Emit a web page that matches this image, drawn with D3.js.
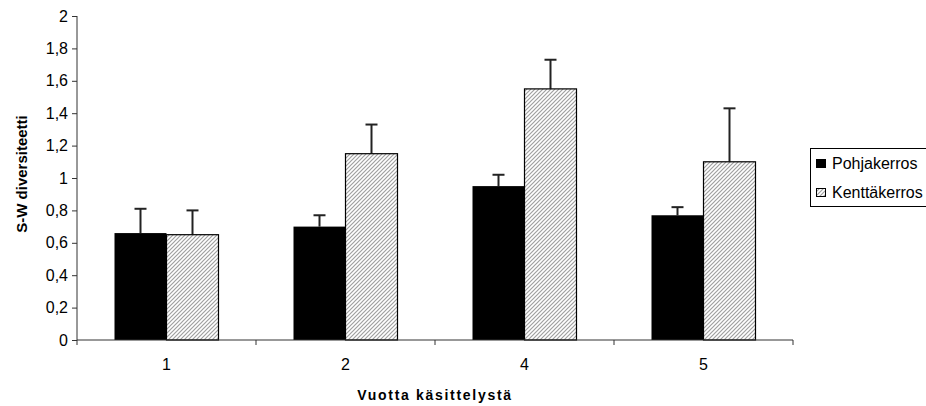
<!DOCTYPE html>
<html><head><meta charset="utf-8">
<script src="https://cdn.jsdelivr.net/npm/d3@7"></script>
<style>body{margin:0;background:#fff}svg{display:block}text{font-family:"Liberation Sans",Arial,sans-serif}</style>
</head><body><svg id="c" width="926" height="406"></svg>
<script>
const categories = ["1","2","4","5"];
const seriesNames = ["Pohjakerros","Kenttäkerros"];
const pohjaValues = [0.66, 0.70, 0.95, 0.77];
const pohjaErr    = [0.15, 0.07, 0.07, 0.05];
const kenttaValues = [0.65, 1.15, 1.55, 1.10];
const kenttaErr    = [0.15, 0.18, 0.18, 0.33];
const yTicks = [0,0.2,0.4,0.6,0.8,1,1.2,1.4,1.6,1.8,2];

const svg = d3.select("#c");
const m = {l:77, t:16, r:793, b:340};
const defs = svg.append("defs");
const pat = defs.append("pattern").attr("id","hatch").attr("patternUnits","userSpaceOnUse")
  .attr("width",4).attr("height",4);
pat.append("rect").attr("width",4).attr("height",4).attr("fill","#fff");
pat.append("path").attr("d","M-1,1 l2,-2 M0,4 l4,-4 M3,5 l2,-2").attr("stroke","#a0a0a0").attr("stroke-width",1.2);

const x = d3.scaleBand().domain(categories).range([m.l,m.r]).paddingInner(0).paddingOuter(0);
const y = d3.scaleLinear().domain([0,2]).range([m.b,m.t]);
const gw = 104;
const xs = d3.scaleBand().domain([0,1]).range([0,gw]);
const bx = (cat, si) => x(cat) + (x.bandwidth()-gw)/2 + xs(si);

const data = categories.map((c,i)=>[
  {c, s:0, v:pohjaValues[i], e:pohjaErr[i]},
  {c, s:1, v:kenttaValues[i], e:kenttaErr[i]}
]).flat();

const g = svg.append("g");
data.forEach(d=>{
  const cx = bx(d.c,d.s)+xs.bandwidth()/2;
  g.append("line").attr("x1",cx).attr("x2",cx).attr("y1",y(d.v)).attr("y2",y(d.v+d.e)).attr("stroke","#222").attr("stroke-width",2);
  g.append("line").attr("x1",cx-6).attr("x2",cx+6).attr("y1",y(d.v+d.e)).attr("y2",y(d.v+d.e)).attr("stroke","#222").attr("stroke-width",2);
});
data.forEach(d=>{
  g.append("rect").attr("x",bx(d.c,d.s)).attr("y",y(d.v)).attr("width",xs.bandwidth()).attr("height",y(0)-y(d.v))
   .attr("fill", d.s===0?"#000":"url(#hatch)").attr("stroke","#000").attr("stroke-width",d.s===0?0:1.2);
});

const ya = svg.append("g").attr("transform",`translate(${m.l},0)`)
  .call(d3.axisLeft(y).tickValues(yTicks).tickSize(5).tickPadding(4).tickFormat(d=>String(d).replace(".",",")));
ya.select(".domain").attr("stroke","#333").attr("d",`M0,${m.t}V${m.b}`);
ya.selectAll(".tick line").attr("stroke","#333");
ya.selectAll("text").attr("font-size",16).attr("fill","#000").attr("font-family","Liberation Sans, Arial");

const xa = svg.append("g").attr("transform",`translate(0,${m.b})`);
xa.append("line").attr("x1",m.l).attr("x2",m.r).attr("stroke","#333");
const bounds = categories.map(c=>x(c)).concat([m.r]);
xa.selectAll("line.t").data(bounds).join("line").attr("class","t").attr("x1",d=>d).attr("x2",d=>d).attr("y1",0).attr("y2",5).attr("stroke","#333");
xa.selectAll("text").data(categories).join("text").attr("x",d=>x(d)+x.bandwidth()/2).attr("y",30)
  .attr("text-anchor","middle").attr("font-size",16).text(d=>d);

svg.append("text").attr("x",435).attr("y",400).attr("text-anchor","middle").attr("font-size",14).attr("font-weight","bold").attr("letter-spacing",1.7).text("Vuotta käsittelystä");
svg.append("text").attr("transform",`translate(27,174) rotate(-90)`).attr("text-anchor","middle").attr("font-size",15).attr("font-weight","bold").text("S-W diversiteetti");

const lg = svg.append("g");
lg.append("rect").attr("x",810.5).attr("y",148.5).attr("width",130).attr("height",58).attr("fill","#fff").attr("stroke","#000");
seriesNames.forEach((s,i)=>{
  const yy = 159 + i*29;
  lg.append("rect").attr("x",816.5).attr("y",yy+0.5).attr("width",9).attr("height",8)
    .attr("fill", i===0?"#000":"url(#hatch)").attr("stroke","#000");
  lg.append("text").attr("x",832).attr("y",yy+9.5).attr("font-size",16).text(s);
});
</script></body></html>
